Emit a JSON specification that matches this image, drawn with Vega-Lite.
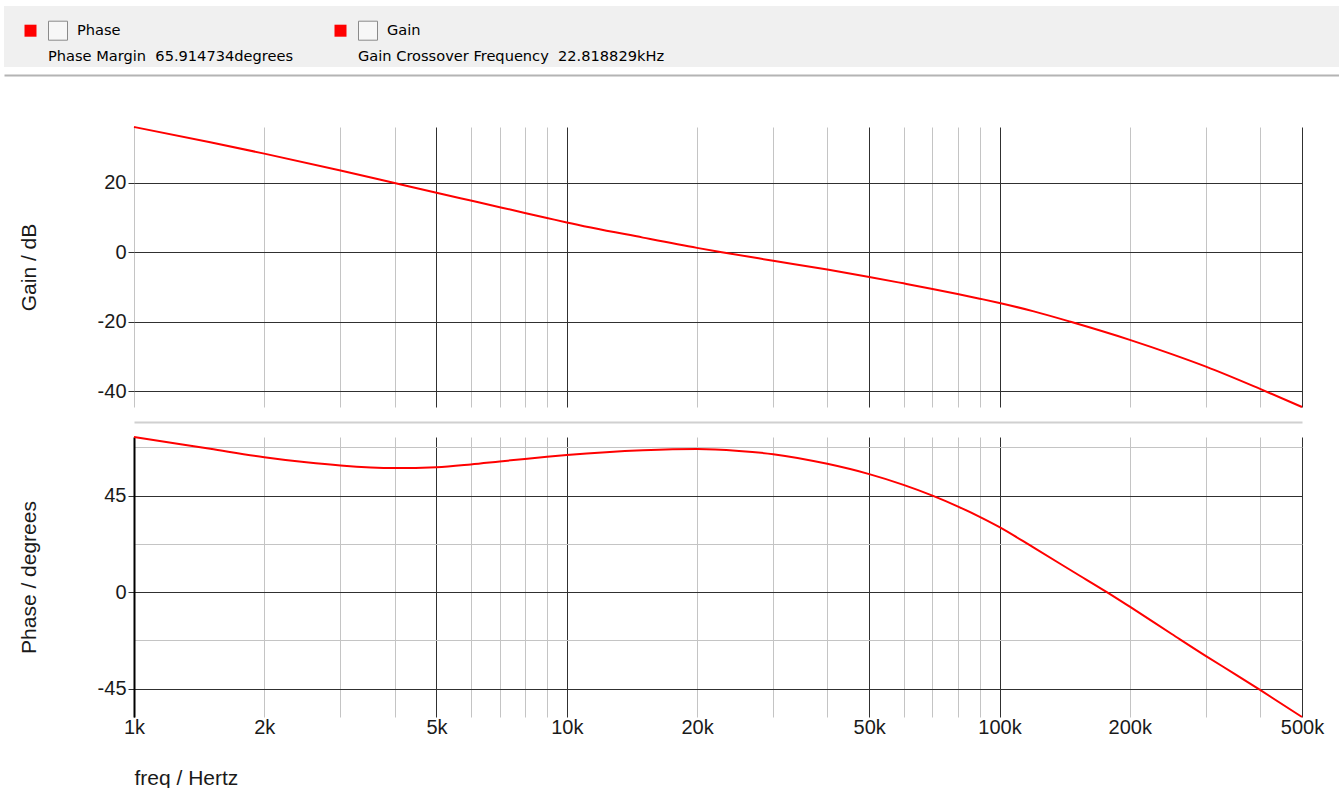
{
  "$schema": "https://vega.github.io/schema/vega-lite/v6.json",
  "background": "white",
  "padding": {"left": 4, "top": 6, "right": 0, "bottom": 0},
  "config": {
    "font": "Liberation Sans",
    "view": {"stroke": null},
    "axis": {"labelFont": "Liberation Sans", "titleFont": "Liberation Sans", "labelColor": "#1a1a1a", "titleColor": "#1a1a1a", "titleFontWeight": "normal"}
  },
  "datasets": {
    "hdr": [
      {"col": 0, "line": "head", "text": "Phase"},
      {"col": 0, "line": "sub", "text": "Phase Margin\u00a0 65.914734degrees"},
      {"col": 1, "line": "head", "text": "Gain"},
      {"col": 1, "line": "sub", "text": "Gain Crossover Frequency\u00a0 22.818829kHz"}
    ],
    "gain": [
      {"f": 1000, "g": 36.0}, {"f": 1500, "g": 31.6}, {"f": 2000, "g": 28.35}, {"f": 3000, "g": 23.5},
      {"f": 4000, "g": 19.9}, {"f": 5000, "g": 17.1}, {"f": 6000, "g": 14.85}, {"f": 7000, "g": 12.95},
      {"f": 8000, "g": 11.3}, {"f": 9000, "g": 9.85}, {"f": 10000, "g": 8.55}, {"f": 15000, "g": 4.2},
      {"f": 20000, "g": 1.25}, {"f": 22819, "g": 0.0}, {"f": 30000, "g": -2.45}, {"f": 40000, "g": -5.0},
      {"f": 50000, "g": -7.1}, {"f": 60000, "g": -8.95}, {"f": 70000, "g": -10.55}, {"f": 80000, "g": -12.0},
      {"f": 90000, "g": -13.35}, {"f": 100000, "g": -14.6}, {"f": 120000, "g": -17.0}, {"f": 146000, "g": -20.0},
      {"f": 200000, "g": -25.2}, {"f": 250000, "g": -29.3}, {"f": 300000, "g": -32.9}, {"f": 400000, "g": -39.3},
      {"f": 500000, "g": -44.5}
    ],
    "phase": [
      {"f": 1000, "p": 72.3}, {"f": 1500, "p": 66.8}, {"f": 2000, "p": 62.9}, {"f": 2500, "p": 60.5},
      {"f": 3000, "p": 59.0}, {"f": 4000, "p": 57.8}, {"f": 5000, "p": 58.2}, {"f": 6000, "p": 59.5},
      {"f": 7000, "p": 60.9}, {"f": 8000, "p": 62.1}, {"f": 9000, "p": 63.1}, {"f": 10000, "p": 63.9},
      {"f": 15000, "p": 66.1}, {"f": 20000, "p": 66.7}, {"f": 25000, "p": 65.8}, {"f": 30000, "p": 64.3},
      {"f": 40000, "p": 59.8}, {"f": 50000, "p": 55.0}, {"f": 60000, "p": 50.0}, {"f": 70000, "p": 45.0},
      {"f": 80000, "p": 40.0}, {"f": 90000, "p": 35.1}, {"f": 100000, "p": 30.3}, {"f": 120000, "p": 20.7},
      {"f": 150000, "p": 8.8}, {"f": 177000, "p": 0.0}, {"f": 200000, "p": -6.8}, {"f": 250000, "p": -19.5},
      {"f": 300000, "p": -29.8}, {"f": 350000, "p": -38.2}, {"f": 400000, "p": -45.6}, {"f": 500000, "p": -58.2}
    ]
  },
  "spacing": 48,
  "vconcat": [
    {
      "width": 1335,
      "height": 61,
      "view": {"fill": "#f0f0f0", "stroke": null},
      "data": {"name": "hdr"},
      "encoding": {
        "x": {"field": "col", "type": "quantitative", "scale": {"domain": [-0.0855, 4.221], "nice": false, "zero": false},
              "axis": {"orient": "bottom", "offset": 8, "domain": true, "domainColor": "#b4b4b4", "domainWidth": 2, "ticks": false, "labels": false, "grid": false, "title": null}},
        "y": {"field": "line", "type": "nominal", "scale": {"type": "point", "domain": ["head", "sub"], "range": [24.7, 51], "padding": 0}, "axis": null}
      },
      "layer": [
        {"transform": [{"filter": "datum.line == 'head'"}],
         "mark": {"type": "point", "shape": "square", "filled": true, "fill": "#ff0000", "stroke": "#ff0000", "strokeWidth": 0, "opacity": 1, "size": 144}},
        {"transform": [{"filter": "datum.line == 'head'"}],
         "mark": {"type": "point", "shape": "square", "filled": true, "fill": "#f7f7f7", "stroke": "#8a8a8a", "strokeWidth": 1, "opacity": 1, "size": 361, "xOffset": 27.5}},
        {"transform": [{"filter": "datum.line == 'head'"}],
         "mark": {"type": "text", "align": "left", "baseline": "middle", "xOffset": 46.5, "fontSize": 14.6, "font": "DejaVu Sans", "color": "#000000"},
         "encoding": {"text": {"field": "text"}}},
        {"transform": [{"filter": "datum.line == 'sub'"}],
         "mark": {"type": "text", "align": "left", "baseline": "middle", "xOffset": 17.5, "fontSize": 14.6, "font": "DejaVu Sans", "color": "#000000"},
         "encoding": {"text": {"field": "text"}}}
      ]
    },
    {
      "spacing": 12,
      "hconcat": [
        {
          "width": 1,
          "height": 1,
          "data": {"values": []},
          "mark": {"type": "point", "opacity": 0}
        },
        {
          "spacing": 11,
          "vconcat": [
            {
              "width": 1168,
              "height": 280,
              "data": {"name": "gain"},
              "mark": {"type": "line", "color": "#ff0000", "strokeWidth": 2, "interpolate": "monotone"},
              "encoding": {
                "x": {"field": "f", "type": "quantitative",
                      "scale": {"type": "log", "domain": [1000, 500000], "nice": false},
                      "axis": {"values": [1000, 2000, 3000, 4000, 5000, 6000, 7000, 8000, 9000, 10000, 20000, 30000, 40000, 50000, 60000, 70000, 80000, 90000, 100000, 200000, 300000, 400000, 500000],
                               "orient": "bottom", "offset": 15, "domain": true, "domainColor": "#d0d0d0", "domainWidth": 2,
                               "ticks": false, "labels": false, "title": null, "grid": true, "gridWidth": 1,
                               "gridColor": {"condition": {"test": "indexof([5000, 10000, 50000, 100000, 500000], datum.value) >= 0", "value": "#303030"}, "value": "#c4c4c4"}}},
                "y": {"field": "g", "type": "quantitative",
                      "scale": {"domain": [-44.5, 36.0], "nice": false, "zero": false},
                      "axis": {"values": [-40, -20, 0, 20], "grid": true, "gridColor": "#303030", "gridWidth": 1, "domain": false,
                               "ticks": true, "tickColor": "#303030", "tickSize": 6, "labelFontSize": 20, "labelPadding": 2,
                               "labelExpr": "toString(datum.value)",
                               "title": "Gain / dB", "titleFontSize": 21, "titleAngle": -90,
                               "titleBaseline": "bottom", "titleAlign": "center", "titleX": -95, "titleY": 140}}
              }
            },
            {
              "width": 1168,
              "height": 280,
              "data": {"name": "phase"},
              "mark": {"type": "line", "color": "#ff0000", "strokeWidth": 2, "interpolate": "monotone"},
              "encoding": {
                "x": {"field": "f", "type": "quantitative",
                      "scale": {"type": "log", "domain": [1000, 500000], "nice": false},
                      "axis": {"values": [1000, 2000, 3000, 4000, 5000, 6000, 7000, 8000, 9000, 10000, 20000, 30000, 40000, 50000, 60000, 70000, 80000, 90000, 100000, 200000, 300000, 400000, 500000],
                               "orient": "bottom", "domain": false, "ticks": false, "grid": true, "gridWidth": 1,
                               "gridColor": {"condition": {"test": "indexof([1000, 5000, 10000, 50000, 100000, 500000], datum.value) >= 0", "value": "#303030"}, "value": "#c4c4c4"},
                               "labelExpr": "indexof([1000, 2000, 5000, 10000, 20000, 50000, 100000, 200000, 500000], datum.value) >= 0 ? toString(datum.value / 1000) + 'k' : ''",
                               "labelFontSize": 20, "labelPadding": 0, "labelBaseline": "top", "labelFlush": false, "labelOverlap": false,
                               "title": "freq / Hertz", "titleFontSize": 21, "titleAnchor": "start", "titleAlign": "left",
                               "titleX": 0, "titleY": 67, "titleBaseline": "alphabetic"}},
                "y": {"field": "p", "type": "quantitative",
                      "scale": {"domain": [-58.2, 72.3], "nice": false, "zero": false},
                      "axis": {"values": [-45, -22.5, 0, 22.5, 45, 67.5], "grid": true, "gridWidth": 1,
                               "gridColor": {"condition": {"test": "datum.value % 45 == 0", "value": "#303030"}, "value": "#c4c4c4"},
                               "ticks": true, "tickSize": 6,
                               "tickColor": {"condition": {"test": "datum.value % 45 == 0", "value": "#303030"}, "value": "transparent"},
                               "domain": true, "domainColor": "#000000", "domainWidth": 2,
                               "labelExpr": "datum.value % 45 == 0 ? toString(datum.value) : ''",
                               "labelFontSize": 20, "labelPadding": 2,
                               "title": "Phase / degrees", "titleFontSize": 21, "titleAngle": -90,
                               "titleBaseline": "bottom", "titleAlign": "center", "titleX": -95, "titleY": 140}}
              }
            }
          ]
        }
      ]
    }
  ]
}
